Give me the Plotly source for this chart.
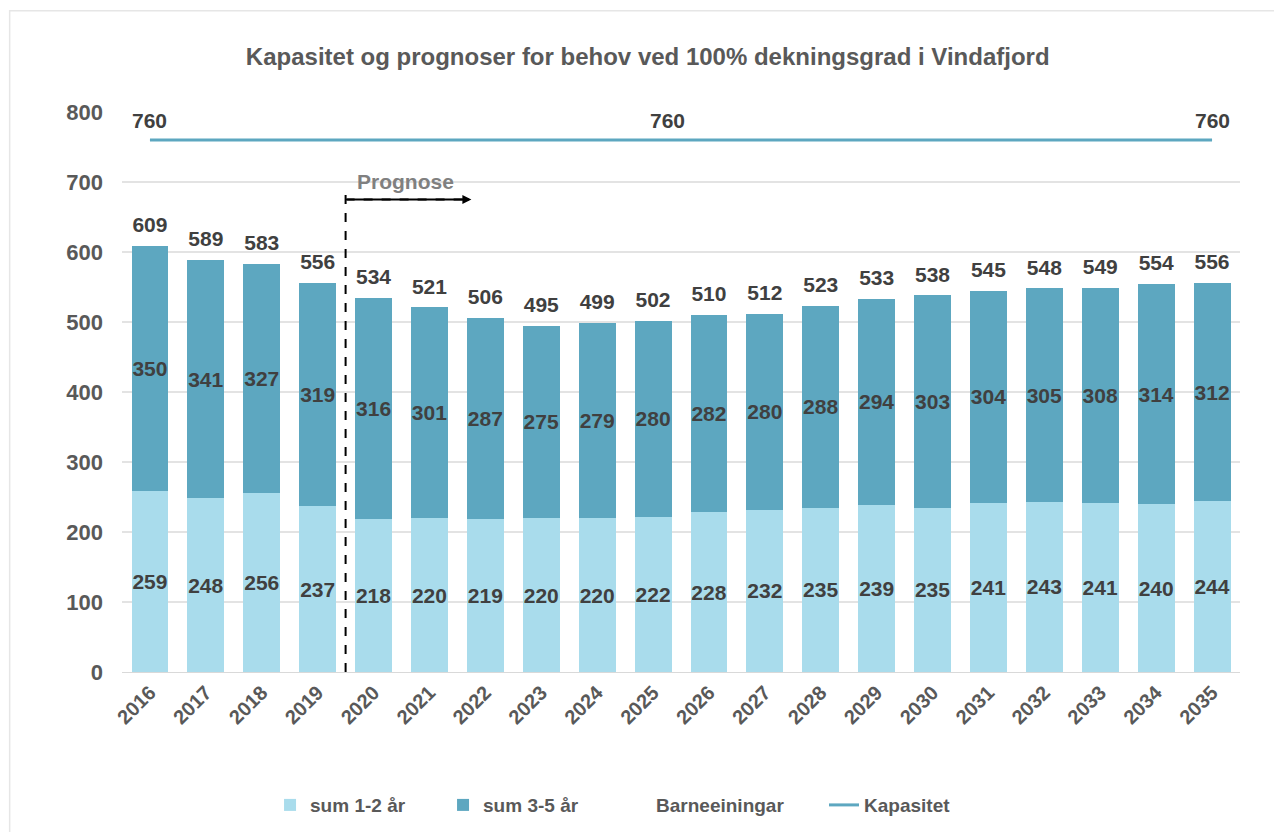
import plotly.graph_objects as go

years = [str(y) for y in range(2016, 2036)]
sum_1_2 = [259, 248, 256, 237, 218, 220, 219, 220, 220, 222, 228, 232, 235, 239, 235, 241, 243, 241, 240, 244]
sum_3_5 = [350, 341, 327, 319, 316, 301, 287, 275, 279, 280, 282, 280, 288, 294, 303, 304, 305, 308, 314, 312]
kapasitet = [760] * 20
kap_label_years = ["2016", "2025", "2035"]
totals = [a + b for a, b in zip(sum_1_2, sum_3_5)]

LIGHT = "#A9DCEC"
DARK = "#5DA7C0"
LABEL = "#404040"
AXIS = "#595959"
FONT = "Liberation Sans, Arial, sans-serif"
LBL = 21

fig = go.Figure()
fig.add_trace(go.Bar(
    x=years, y=sum_1_2, name="sum 1-2 år", marker=dict(color=LIGHT, line=dict(width=0)),
    text=sum_1_2, texttemplate="<b>%{text}</b>", textposition="inside", insidetextanchor="middle",
    textfont=dict(family=FONT, size=LBL, color=LABEL), textangle=0,
))
fig.add_trace(go.Bar(
    x=years, y=sum_3_5, name="sum 3-5 år", marker=dict(color=DARK, line=dict(width=0)),
    text=sum_3_5, texttemplate="<b>%{text}</b>", textposition="inside", insidetextanchor="middle",
    textfont=dict(family=FONT, size=LBL, color=LABEL), textangle=0,
))
fig.add_trace(go.Scatter(
    x=years, y=totals, name="Barneeiningar", mode="markers+text",
    marker=dict(color="rgba(0,0,0,0)", size=12),
    text=[str(t) for t in totals], texttemplate="<b>%{text}</b>", textposition="top center",
    textfont=dict(family=FONT, size=LBL, color=LABEL), cliponaxis=False,
))
fig.add_trace(go.Scatter(
    x=years, y=kapasitet, name="Kapasitet", mode="lines", legend="legend2",
    line=dict(color=DARK, width=3), cliponaxis=False,
))

for yr in kap_label_years:
    i = years.index(yr)
    fig.add_annotation(
        x=i, y=kapasitet[i], text="<b>" + str(kapasitet[i]) + "</b>", showarrow=False,
        xref="x", yref="y", yanchor="bottom", yshift=6, xshift=(14 if yr == "2025" else 0),
        font=dict(family=FONT, size=LBL, color=LABEL),
    )

# Prognose marker
fig.add_shape(type="line", xref="x", yref="y", x0=3.5, x1=3.5, y0=0, y1=693,
              line=dict(color="black", width=2, dash="dash"))
fig.add_annotation(x=5.75, y=675, ax=3.5, ay=675, xref="x", yref="y", axref="x", ayref="y",
                   showarrow=True, arrowhead=2, arrowsize=1, arrowwidth=1.8, arrowcolor="black",
                   text="", standoff=0)
fig.add_shape(type="line", xref="x", yref="y", x0=3.5, x1=5.7, y0=675, y1=675,
              line=dict(color="black", width=2, dash="dash"))
fig.add_annotation(x=3.67, y=701, xref="x", yref="y", text="<b>Prognose</b>", showarrow=False,
                   xanchor="left", yanchor="middle",
                   font=dict(family=FONT, size=LBL, color="#808080"))

# frame
fig.add_shape(type="rect", xref="paper", yref="paper", x0=-0.1005, x1=1.05, y0=-0.35, y1=1.181,
              line=dict(color="#E6E6E6", width=1.5), fillcolor="rgba(0,0,0,0)", layer="below")

legend_font = dict(family=FONT, size=19, color=AXIS, weight="bold")
fig.update_layout(
    width=1282, height=832,
    margin=dict(l=114, r=50, t=104, b=168),
    paper_bgcolor="white", plot_bgcolor="white",
    barmode="stack", bargap=0.34,
    uniformtext=dict(minsize=LBL, mode="show"),
    title=dict(text="<b>Kapasitet og prognoser for behov ved 100% dekningsgrad i Vindafjord</b>",
               x=0.499, xanchor="center", y=0.941, yanchor="middle",
               font=dict(family=FONT, size=24, color=AXIS)),
    font=dict(family=FONT, color=AXIS),
    showlegend=True,
    legend=dict(orientation="h", xref="container", yref="container", x=0.2044, xanchor="left",
                y=0.042, yanchor="middle", entrywidth=128, itemwidth=30,
                font=legend_font, traceorder="normal"),
    legend2=dict(orientation="h", xref="container", yref="container", x=0.6365, xanchor="left",
                 y=0.042, yanchor="middle", itemwidth=30, font=legend_font),
)
fig.update_xaxes(type="category", tickangle=-45, showgrid=False, showline=True,
                 linecolor="#D9D9D9", linewidth=1, ticks="",
                 tickfont=dict(family=FONT, size=20, color=AXIS),
                 tickprefix="<b>", ticksuffix="</b>",
                 range=[-0.5, 19.5])
fig.update_yaxes(range=[0, 800], dtick=100, showgrid=True, gridcolor="#E3E3E3", gridwidth=1.5,
                 zeroline=False, ticks="", showline=False,
                 tickprefix="<b>", ticksuffix="</b>",
                 tickfont=dict(family=FONT, size=22, color=AXIS), ticklabelstandoff=18)
fig.write_html("out.html")
